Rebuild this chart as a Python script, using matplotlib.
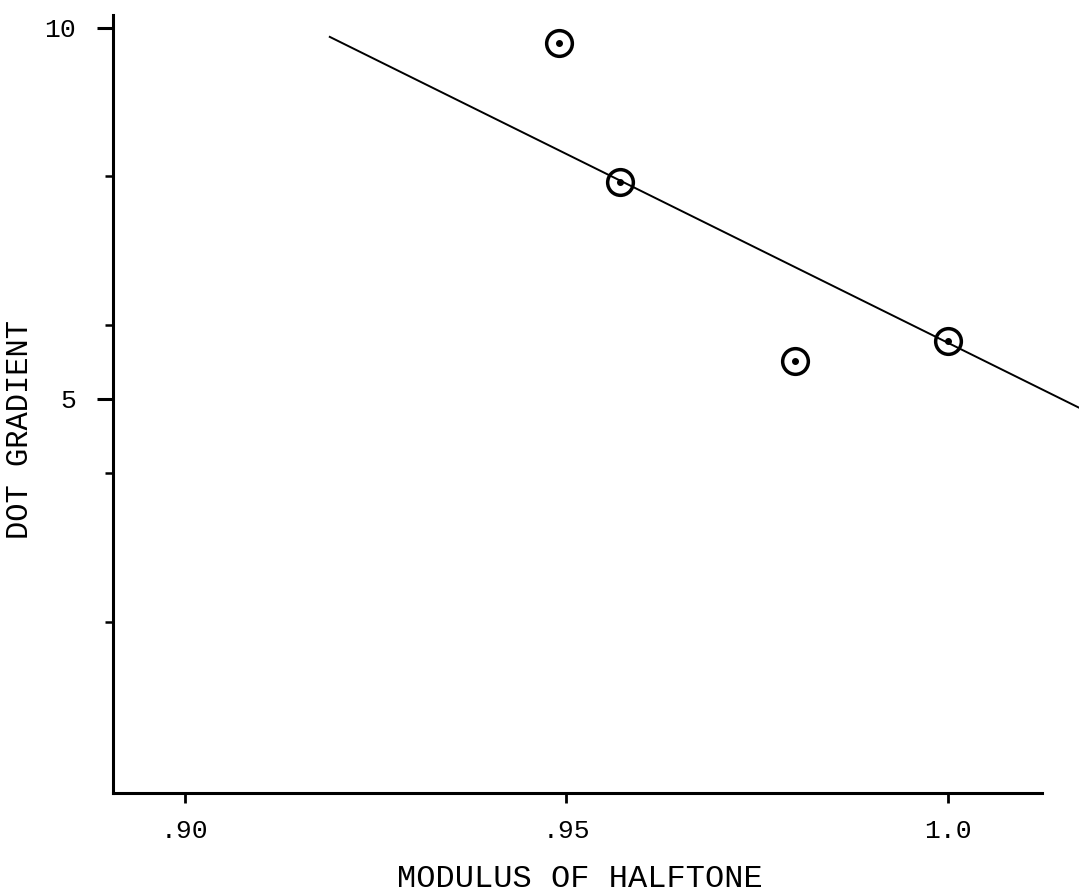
import matplotlib
matplotlib.use('Agg')
from matplotlib import pyplot as plt

# measured points (modulus of halftone, dot gradient)
modulus = [0.949, 0.957, 0.980, 1.000]
gradient = [9.80, 7.92, 5.51, 5.78]

# hand drawn fit line, end points
fit_x = [0.919, 1.0174]
fit_y = [9.88, 4.87]

x_ticks = [0.90, 0.95, 1.0]
x_labels = ['.90', '.95', '1.0']
y_major = [10, 5]
y_major_labels = ['10', '5']
y_minor = [2, 4, 6, 8]

plt.rcParams['font.family'] = ['Liberation Mono', 'DejaVu Sans Mono']

fig = plt.figure(figsize=(10.79, 8.92), dpi=100)
ax = fig.add_axes([113 / 1079, 1 - 793 / 892, 929 / 1079, 778 / 892])

ax.plot(fit_x, fit_y, color='black', lw=1.4, clip_on=False)
ax.plot(modulus, gradient, 'o', ms=18.5, mfc='none', mec='black', mew=2.5,
        clip_on=False, zorder=3)
ax.plot(modulus, gradient, 'o', ms=4, color='black', zorder=4)

ax.set_xlim(0.8906, 1.0123)
ax.set_ylim(-0.31, 10.175)

for side in ['top', 'right']:
    ax.spines[side].set_visible(False)
for side in ['left', 'bottom']:
    ax.spines[side].set_linewidth(2.2)

ax.set_xticks(x_ticks)
ax.set_xticklabels(x_labels)
ax.set_yticks(y_major)
ax.set_yticklabels(y_major_labels)
ax.set_yticks(y_minor, minor=True)

ax.tick_params(axis='x', direction='out', length=7, width=2, labelsize=19, pad=12)
ax.tick_params(axis='y', which='major', direction='out', length=11.5, width=2.2,
               labelsize=19, pad=15)
ax.tick_params(axis='y', which='minor', direction='out', length=6, width=1.8)

ax.set_xlabel('MODULUS OF HALFTONE', fontsize=23)
ax.set_ylabel('DOT GRADIENT', fontsize=22)
ax.xaxis.set_label_coords(0.503, -0.091)
ax.yaxis.set_label_coords(-0.084, 0.467)

fig.savefig('out.png', dpi=100)
